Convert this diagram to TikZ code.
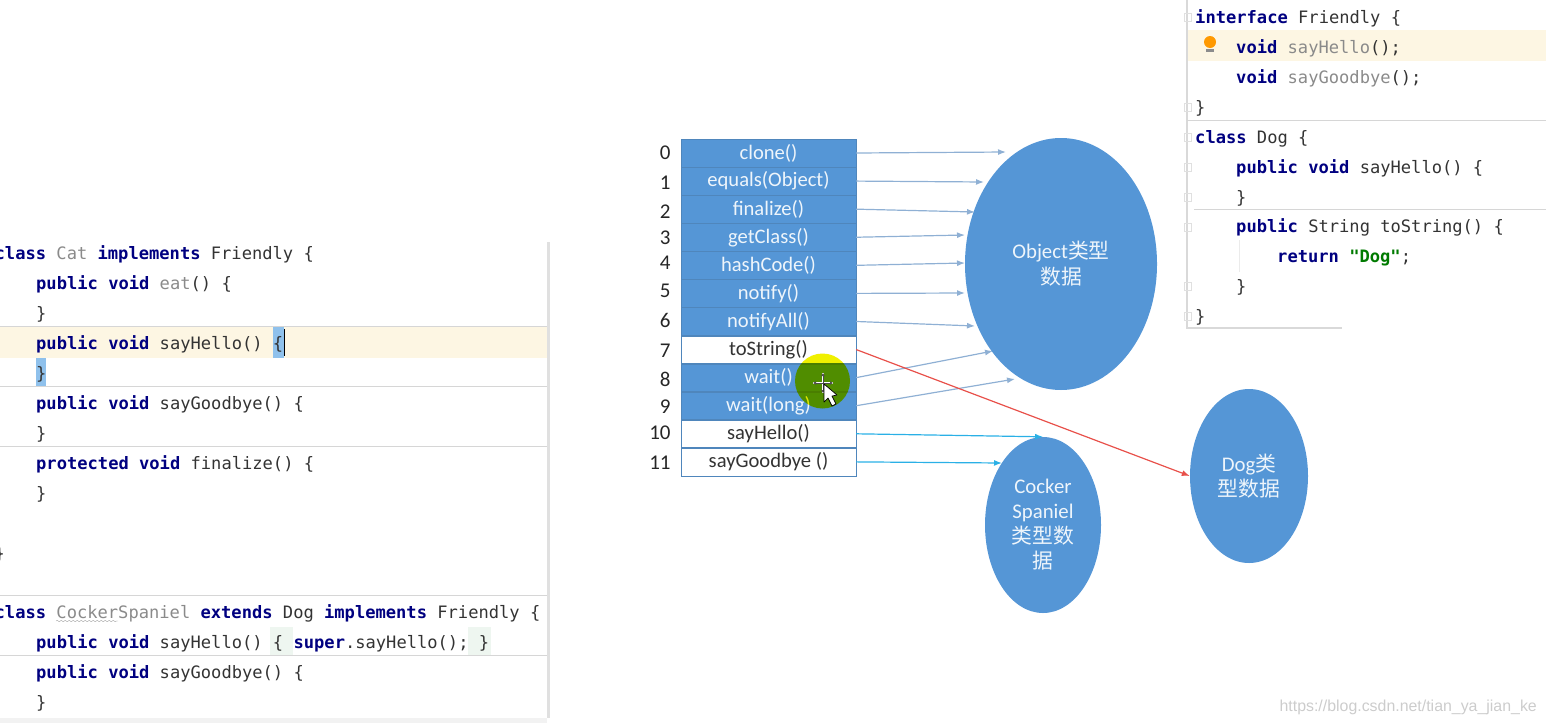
\documentclass[tikz,border=0pt]{standalone}
\usepackage{xcolor}
\usepackage{fontspec}
\setmainfont{Carlito}
\setmonofont{DejaVu Sans Mono}
\newfontfamily\cjk{Noto Sans CJK SC}
\usetikzlibrary{positioning, arrows.meta, shapes.geometric, decorations.pathmorphing}

\definecolor{slotblue}{HTML}{5596D6}
\definecolor{slotline}{HTML}{4F86BC}
\definecolor{blobblue}{HTML}{5596D6}
\definecolor{linkblue}{HTML}{8FB0D4}
\definecolor{linkcyan}{HTML}{2AB0E6}
\definecolor{linkred}{HTML}{E8504A}
\definecolor{kwnavy}{HTML}{000080}
\definecolor{codegray}{HTML}{333333}
\definecolor{unused}{HTML}{8A8A8A}
\definecolor{strgreen}{HTML}{007A00}
\definecolor{caretrow}{HTML}{FDF6E3}
\definecolor{bracehit}{HTML}{8FC1EC}
\definecolor{bracegreen}{HTML}{EEF6F0}
\definecolor{rulegray}{HTML}{D6D6D6}
\definecolor{pointer}{HTML}{F0F000}

\newcommand{\kw}[1]{\textcolor{kwnavy}{\bfseries #1}}
\newcommand{\un}[1]{\textcolor{unused}{#1}}

\begin{document}
\begin{tikzpicture}[
                x=1pt, y=-1pt,
                node distance=0pt,
                slot/.style={
                        draw=slotline,
                        fill=slotblue,
                        text=white!90!slotblue,
                        minimum width=175pt,
                        minimum height=27.68pt,
                        inner sep=0pt,
                        font=\fontsize{20.6}{20.6}\selectfont
                    },
                plain/.style={
                        slot,
                        fill=white,
                        text=black!80
                    },
                idx/.style={
                        left=10pt of #1,
                        inner sep=0pt,
                        text=black!85,
                        font=\fontsize{21}{21}\selectfont
                    },
                blob/.style={
                        ellipse,
                        fill=blobblue,
                        inner sep=0pt,
                        align=center,
                        text=white!90!blobblue,
                        font=\fontsize{20.8}{25}\selectfont
                    },
                code/.style={
                        anchor=base west,
                        inner sep=0pt,
                        text=codegray,
                        font=\fontsize{17.1}{17.1}\ttfamily
                    },
                link/.style={-{Latex[length=8pt,width=6pt]}, linkblue, line width=1.2pt},
                rule/.style={rulegray, line width=1pt},
                foldmark/.style={draw=black!12, line width=0.6pt}
            ]

            \useasboundingbox (0,0) rectangle (1546,723);

            % left editor
            \fill[caretrow] (0,327) rectangle (547,358);
            \fill[bracehit] (273,327) rectangle (284,358);
            \fill[bracehit] (36,358) rectangle (46,386);
            \fill[bracegreen] (270,627) rectangle (293,655);
            \fill[bracegreen] (468,627) rectangle (491,655);
            \fill[black!5] (0,718) rectangle (547,723);
            \draw[rule] (0,326)--(547,326);
            \draw[rule] (0,386)--(547,386);
            \draw[rule] (0,446)--(547,446);
            \draw[rule] (0,595)--(547,595);
            \draw[rule] (0,655)--(547,655);
            \draw[black!12, line width=3pt] (548.5,242)--(548.5,718);
            \draw[black, line width=1.2pt] (284.5,329)--(284.5,356);
            \draw[black!35, decorate, decoration={snake, amplitude=0.7pt, segment length=4pt}] (56,621)--(118,621);

            \node[code] (catline) at (-5.5,259) {\kw{class} \un{Cat} \kw{implements} Friendly \{};
            \node[code] (eatline) at (36,289) {\kw{public void} \un{eat}() \{};
            \node[code] (eatend) at (36,319) {\}};
            \node[code] (helloline) at (36,349) {\kw{public void} sayHello() \{};
            \node[code] (helloend) at (36,379) {\}};
            \node[code] (byeline) at (36,409) {\kw{public void} sayGoodbye() \{};
            \node[code] (byeend) at (36,439) {\}};
            \node[code] (finline) at (36,469) {\kw{protected void} finalize() \{};
            \node[code] (finend) at (36,499) {\}};
            \node[code] (catend) at (-5.5,559) {\}};
            \node[code] (cockerline) at (-5.5,618) {\kw{class} \un{CockerSpaniel} \kw{extends} Dog \kw{implements} Friendly \{};
            \node[code] (superline) at (36,648) {\kw{public void} sayHello() \{ \kw{super}.sayHello(); \}};
            \node[code] (cbyeline) at (36,678) {\kw{public void} sayGoodbye() \{};
            \node[code] (cbyeend) at (36,708) {\}};

            % right editor
            \fill[caretrow] (1187,30) rectangle (1546,61);
            \draw[black!15, line width=2pt] (1187,0)--(1187,328)--(1342,328);
            \draw[rule] (1187,120)--(1546,120);
            \draw[rule] (1194,209)--(1546,209);
            \draw[black!8] (1239,240)--(1239,272);
            \foreach \y in {17,107,137,167,197,227,286,316}
                \draw[foldmark] (1184,\y-4) rectangle (1191,\y+4);
            \fill[orange!80!yellow] (1210,42) circle (6pt);
            \fill[black!45] (1206,49) rectangle (1214,52);

            \node[code] (faceline) at (1195,23) {\kw{interface} Friendly \{};
            \node[code] (faceone) at (1236,53) {\kw{void} \un{sayHello}();};
            \node[code] (facetwo) at (1236,83) {\kw{void} \un{sayGoodbye}();};
            \node[code] (faceend) at (1195,113) {\}};
            \node[code] (dogline) at (1195,143) {\kw{class} Dog \{};
            \node[code] (doghello) at (1236,173) {\kw{public void} sayHello() \{};
            \node[code] (doghelloend) at (1236,203) {\}};
            \node[code] (dogstr) at (1236,232) {\kw{public} String toString() \{};
            \node[code] (dogret) at (1277,262) {\kw{return} \textcolor{strgreen}{\bfseries "Dog"};};
            \node[code] (dogstrend) at (1236,292) {\}};
            \node[code] (dogend) at (1195,322) {\}};

            % method table
            \node[slot] (r0) at (768.5,153) {clone()};
            \node[slot, below=of r0] (r1) {equals(Object)};
            \node[slot, below=of r1] (r2) {finalize()};
            \node[slot, below=of r2] (r3) {getClass()};
            \node[slot, below=of r3] (r4) {hashCode()};
            \node[slot, below=of r4] (r5) {notify()};
            \node[slot, below=of r5] (r6) {notifyAll()};
            \node[plain, below=of r6] (r7) {toString()};
            \node[slot, below=of r7] (r8) {wait()};
            \node[slot, below=of r8] (r9) {wait(long)};
            \node[plain, below=of r9] (r10) {sayHello()};
            \node[plain, below=of r10] (r11) {sayGoodbye ()};

            \node[idx=r0] (n0) {0};
            \node[idx=r1, yshift=-2pt] (n1) {1};
            \node[idx=r2, yshift=-3pt] (n2) {2};
            \node[idx=r3, yshift=-1pt] (n3) {3};
            \node[idx=r4, yshift=3pt] (n4) {4};
            \node[idx=r5, yshift=3pt] (n5) {5};
            \node[idx=r6, yshift=1pt] (n6) {6};
            \node[idx=r7, yshift=-1pt] (n7) {7};
            \node[idx=r8, yshift=-2pt] (n8) {8};
            \node[idx=r9, yshift=-1pt] (n9) {9};
            \node[idx=r10, yshift=1pt] (n10) {10};
            \node[idx=r11, yshift=-1pt] (n11) {11};

            % data blobs
            \node[blob, minimum width=192pt, minimum height=252pt] (objdata) at (1061,264) {Object{\cjk 类型}\\[1pt]{\cjk 数据}};
            \node[blob, minimum width=118pt, minimum height=174pt] (dogdata) at (1249,476) {Dog{\cjk 类}\\{\cjk 型数据}};
            \node[blob, minimum width=116pt, minimum height=176pt] (cockerdata) at (1043,525) {Cocker\\Spaniel\\{\cjk 类型数}\\{\cjk 据}};

            \coordinate (e0) at (1006,152);
            \coordinate (e1) at (984,182);
            \coordinate (e2) at (975,212);
            \coordinate (e3) at (965,235);
            \coordinate (e4) at (965,263);
            \coordinate (e5) at (965,293);
            \coordinate (e6) at (975,326);
            \coordinate (e8) at (993,351);
            \coordinate (e9) at (1015,379);
            \coordinate (e11) at (1002,463);

            \draw[link] (r0.east)--(e0);
            \draw[link] (r1.east)--(e1);
            \draw[link] (r2.east)--(e2);
            \draw[link] (r3.east)--(e3);
            \draw[link] (r4.east)--(e4);
            \draw[link] (r5.east)--(e5);
            \draw[link] (r6.east)--(e6);
            \draw[link] (r8.east)--(e8);
            \draw[link] (r9.east)--(e9);
            \draw[link, linkred] (r7.east)--(dogdata.west);
            \draw[link, linkcyan] (r10.east)--(cockerdata.north);
            \draw[link, linkcyan] (r11.east)--(e11);

            % pointer
            \begin{scope}[blend mode=multiply]
                \fill[pointer] (822.5,381) circle (27.5pt);
            \end{scope}
            \draw[white, line width=2.4pt] (813,383)--(833,383) (823,373)--(823,393);
            \draw[black!70, line width=0.7pt, {Latex[length=3pt,width=4pt]}-{Latex[length=3pt,width=4pt]}] (813,383)--(833,383);
            \draw[black!70, line width=0.7pt, {Latex[length=3pt,width=4pt]}-{Latex[length=3pt,width=4pt]}] (823,373)--(823,393);
            \fill[white, draw=black, line width=0.7pt, line join=round] (824,384)--(824,402)--(828,398)--(832,406)--(836,404)--(832,396)--(837,395)--cycle;

            \node[anchor=base east, inner sep=0pt, text=black!20, font=\fontsize{15.9}{15.9}\fontspec{Liberation Sans}] (mark) at (1537,711) {https://blog.csdn.net/tian\_ya\_jian\_ke};

        \end{tikzpicture}
\end{document}
